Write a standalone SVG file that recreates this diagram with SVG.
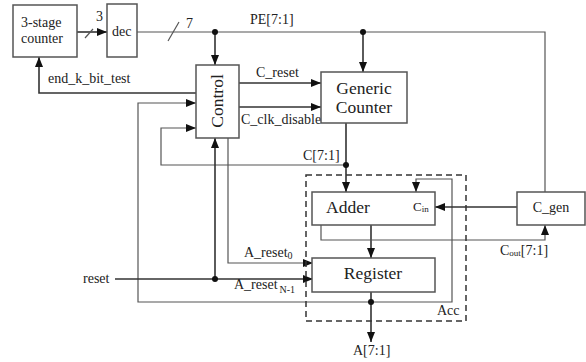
<svg xmlns="http://www.w3.org/2000/svg" width="586" height="362" viewBox="0 0 586 362" font-family="'Liberation Serif', 'Times New Roman', serif">
<defs>
<marker id="ah" markerUnits="userSpaceOnUse" markerWidth="10" markerHeight="8" refX="10" refY="4" orient="auto">
<path d="M0,0 L10,4 L0,8 z" fill="#111"/>
</marker>
<style>
.box{fill:#fff;stroke:#555;stroke-width:1.5}
.w{fill:none;stroke:#333;stroke-width:1.6}
.g{fill:none;stroke:#555;stroke-width:1.2}
.a{marker-end:url(#ah)}
.t{font-family:'Liberation Serif','Times New Roman',serif;fill:#222}
.l{font-size:14px}
.b{font-size:17.5px}
.dot{fill:#111}
</style>
</defs>
<rect width="586" height="362" fill="#fff"/>
<g id="connectors">
<path class="w a" d="M77,32 H107"/>
<path class="g" d="M85,38 L93,29"/>
<path class="g" d="M137,32 H545 V192"/>
<path class="g" d="M168,41 L179,22"/>
<path class="w a" d="M215,32 V65"/>
<path class="w a" d="M363,32 V72"/>
<path class="w a" d="M239,83 H321"/>
<path class="w a" d="M239,107 H321"/>
<path class="w a" d="M196,93 H39 V57"/>
<path class="w a" d="M346,123 V192"/>
<path class="g a" d="M346,165 H161 V128 H196"/>
<path class="w a" d="M371,292 V342"/>
<path class="g a" d="M371,302 H138 V103 H196"/>
<path class="g a" d="M371,302 H452 V179 H416 V192"/>
<path class="w a" d="M371,225 V258"/>
<path class="g a" d="M321,225 V240 H545 V225"/>
<path class="w a" d="M517,207 H435"/>
<path class="w a" d="M115,279 H313"/>
<path class="w a" d="M215,279 V138"/>
<path class="g a" d="M228,138 V263 H313"/>
<circle class="dot" cx="215" cy="32" r="3"/>
<circle class="dot" cx="363" cy="32" r="3"/>
<circle class="dot" cx="346" cy="165" r="3"/>
<circle class="dot" cx="371" cy="302" r="3"/>
<circle class="dot" cx="215" cy="279" r="3"/>
<text class="t l" x="96" y="21">3</text>
<text class="t l" x="186" y="28">7</text>
<text class="t l" x="250" y="24">PE[7:1]</text>
<text class="t l" x="48" y="83">end_k_bit_test</text>
<text class="t l" x="256" y="77">C_reset</text>
<text class="t l" x="241" y="124">C_clk_disable</text>
<text class="t l" x="303" y="160">C[7:1]</text>
<text class="t l" x="500" y="255">C<tspan font-size="9" dy="1">out</tspan><tspan dy="-1">[7:1]</tspan></text>
<text class="t l" x="244" y="257">A_reset<tspan font-size="10" dy="2">0</tspan></text>
<text class="t l" x="234" y="289">A_reset<tspan font-size="10" dx="2" dy="4">N-1</tspan></text>
<text class="t l" x="83" y="283">reset</text>
<text class="t l" x="353" y="355">A[7:1]</text>
</g>
<g id="counter3">
<rect class="box" x="13" y="5" width="64" height="52"/>
<text class="t l" x="21" y="27">3-stage</text>
<text class="t l" x="21" y="43">counter</text>
</g>
<g id="dec">
<rect class="box" x="107" y="4" width="30" height="53"/>
<text class="t l" x="112" y="36">dec</text>
</g>
<g id="control">
<rect class="box" x="196" y="65" width="43" height="73"/>
<text class="t b" transform="translate(223,101) rotate(-90)" text-anchor="middle">Control</text>
</g>
<g id="generic">
<rect class="box" x="321" y="72" width="86" height="51"/>
<text class="t b" x="364" y="94" text-anchor="middle">Generic</text>
<text class="t b" x="364" y="113" text-anchor="middle">Counter</text>
</g>
<g id="acc">
<rect x="306" y="175" width="160" height="146" fill="none" stroke="#333" stroke-width="1.5" stroke-dasharray="6,4"/>
<text class="t l" x="437" y="315">Acc</text>
</g>
<g id="adder">
<rect class="box" x="312" y="192" width="123" height="33"/>
<text class="t b" x="326" y="213">Adder</text>
<text class="t" font-size="13" x="413" y="211">C<tspan font-size="9" dy="1">in</tspan></text>
</g>
<g id="register">
<rect class="box" x="312" y="258" width="123" height="34"/>
<text class="t b" x="373" y="279" text-anchor="middle">Register</text>
</g>
<g id="cgen">
<rect class="box" x="517" y="192" width="68" height="33"/>
<text class="t l" x="551" y="212" text-anchor="middle">C_gen</text>
</g>
</svg>
